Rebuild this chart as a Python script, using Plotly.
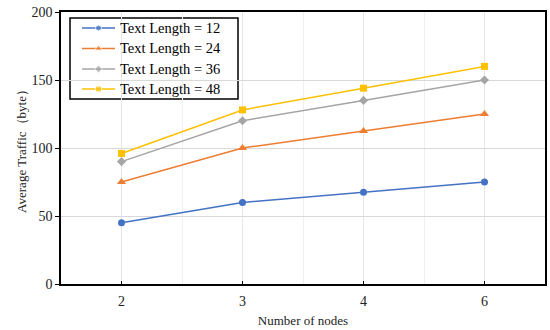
import plotly.graph_objects as go

nodes = ["2", "3", "4", "6"]
len12 = [45, 60, 67.5, 75]
len24 = [75, 100, 112.5, 125]
len36 = [90, 120, 135, 150]
len48 = [96, 128, 144, 160]
series_names = ["Text Length = 12", "Text Length = 24", "Text Length = 36", "Text Length = 48"]
y_ticks = [0, 50, 100, 150, 200]

colors = ["#4472C4", "#ED7D31", "#A5A5A5", "#FFC000"]
symbols = ["circle", "triangle-up", "diamond", "square"]
sizes = [7, 8, 7, 7]

# plot area in pixels (for legend placement)
W, H = 550, 330
L, R, T, B = 61, 5, 12, 46
PW, PH = W - L - R, H - T - B

def px(xp):
    return (xp - L) / PW

def py(yp):
    return (H - B - yp) / PH

font = "Liberation Serif"
xpos = list(range(len(nodes)))
fig = go.Figure()
for name, vals, c, s, sz in zip(series_names, [len12, len24, len36, len48], colors, symbols, sizes):
    fig.add_trace(go.Scatter(x=xpos, y=vals, name=name, mode="lines+markers",
                             line=dict(color=c, width=1.5), showlegend=False,
                             marker=dict(symbol=s, size=sz, color=c)))

# custom legend box
box = dict(x0=px(70), x1=px(238), y0=py(99), y1=py(18))
fig.add_shape(type="rect", xref="paper", yref="paper", layer="between",
              fillcolor="white", line=dict(color="black", width=1.5), **box)
row_y = [28, 48.5, 69, 89]
annotations = []
for i, (name, c, s, sz) in enumerate(zip(series_names, colors, symbols, sizes)):
    yy = py(row_y[i])
    fig.add_trace(go.Scatter(x=[px(82), px(98.5), px(115)], y=[yy, yy, yy],
                             xaxis="x2", yaxis="y2", mode="lines+markers",
                             line=dict(color=c, width=1.5), showlegend=False, hoverinfo="skip",
                             marker=dict(symbol=s, size=[0, sz - 1, 0], color=c)))
    annotations.append(dict(x=px(118), y=yy, xref="paper", yref="paper", text=name,
                            showarrow=False, xanchor="left", yanchor="middle",
                            font=dict(family=font, size=14.5, color="black")))

fig.update_layout(
    width=W, height=H,
    margin=dict(l=L, r=R, t=T, b=B),
    paper_bgcolor="white", plot_bgcolor="white",
    font=dict(family=font, size=14, color="#222"),
    showlegend=False,
    annotations=annotations,
    xaxis=dict(
        range=[-0.5, 3.5], tickvals=xpos, ticktext=nodes, automargin=False,
        showline=True, linecolor="black", linewidth=1.5, mirror=True,
        ticks="inside", ticklen=3, tickcolor="black", ticklabelstandoff=3,
        showgrid=True, gridcolor="#E6E6E6", gridwidth=1,
        minor=dict(dtick=0.5, tick0=-0.5, showgrid=True, gridcolor="#EFEFEF"),
        zeroline=False,
        title=dict(text="Number of nodes", font=dict(family=font, size=13, color="#222"), standoff=8),
        tickfont=dict(family=font, size=14, color="#222"),
    ),
    yaxis=dict(
        range=[0, 200], tickvals=y_ticks, automargin=False,
        showline=True, linecolor="black", linewidth=1.5, mirror=True,
        ticks="outside", ticklen=4, tickcolor="black",
        showgrid=True, gridcolor="#D9D9D9", gridwidth=1,
        zeroline=False,
        title=dict(text="Average Traffic（byte）", font=dict(family=font, size=13, color="#222"), standoff=2),
        tickfont=dict(family=font, size=14, color="#222"),
    ),
    xaxis2=dict(overlaying="x", range=[0, 1], visible=False, automargin=False),
    yaxis2=dict(overlaying="y", range=[0, 1], visible=False, automargin=False),
)
fig.write_html("out.html", config={"displayModeBar": False},
               post_script="document.body.style.margin='0';document.body.style.overflow='hidden';")
